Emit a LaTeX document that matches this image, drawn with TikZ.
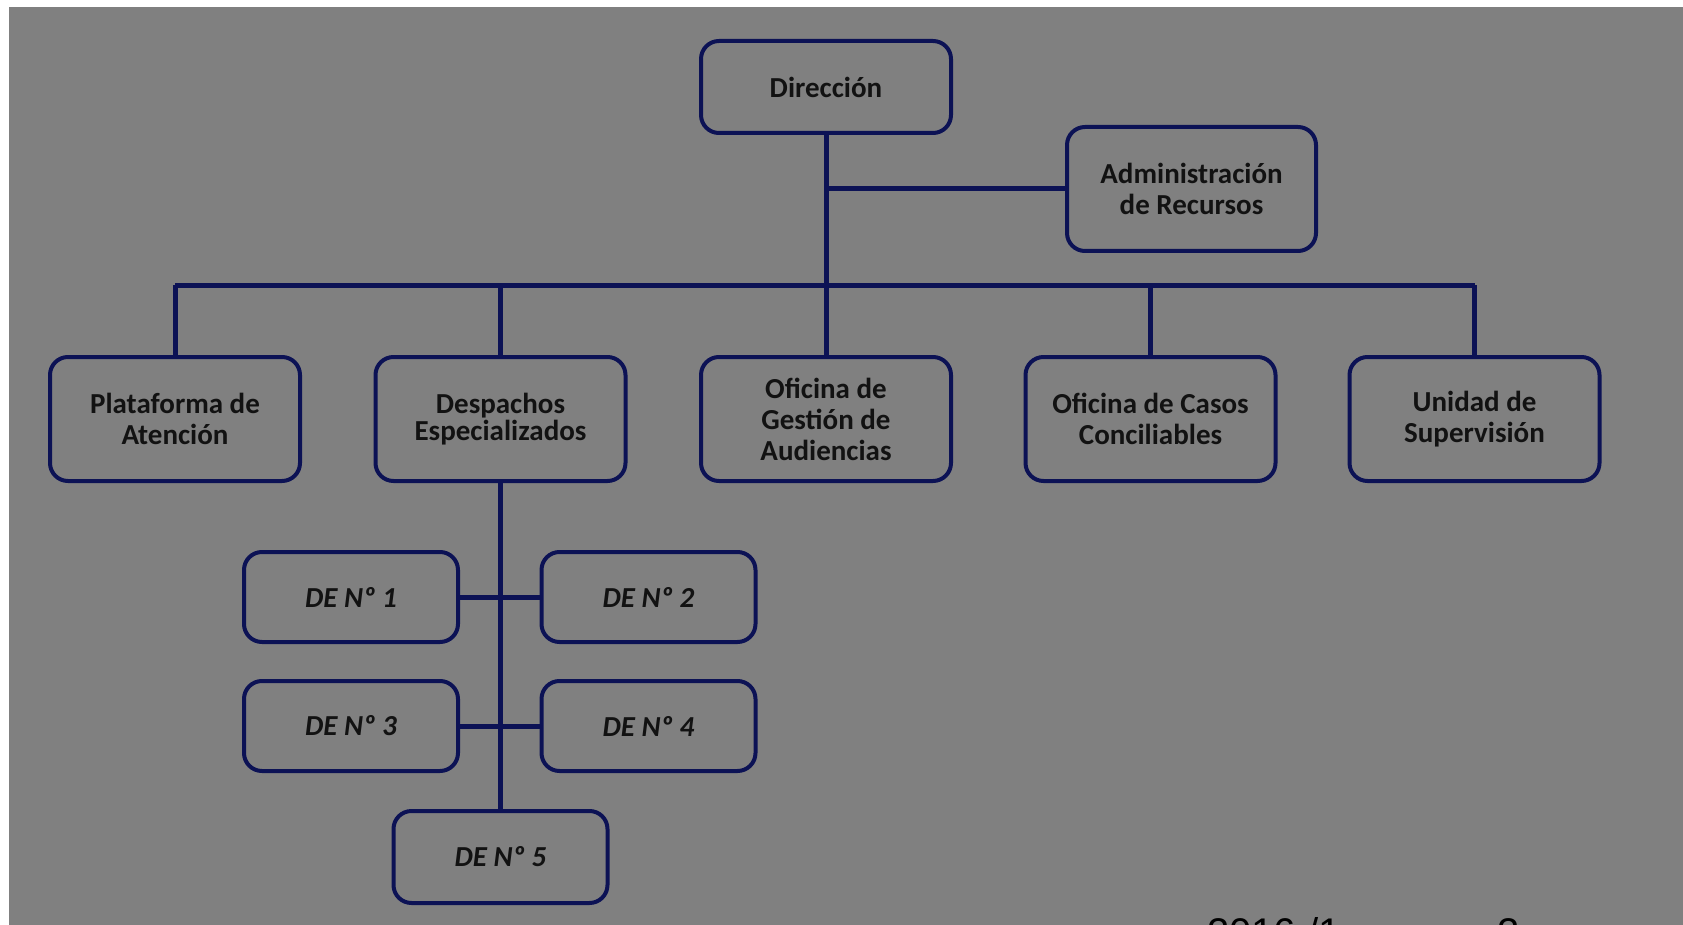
\documentclass[tikz,border=0pt]{standalone}
\usepackage{fontspec}
\setmainfont{Carlito}
\newfontfamily\footfont{Liberation Sans}
\definecolor{navy}{RGB}{12,18,85}
\definecolor{bggray}{RGB}{128,128,128}
\definecolor{ink}{RGB}{18,18,18}
\begin{document}
\begin{tikzpicture}[x=1pt,y=-1pt,
  orgbox/.style={draw=navy, line width=4pt, rounded corners=18pt, align=center,
    text=ink, font=\fontsize{29}{31}\selectfont\bfseries, inner sep=0pt},
  rowbox/.style={orgbox, minimum width=250pt, minimum height=124pt},
  debox/.style={orgbox, minimum width=214pt, minimum height=90pt, font=\fontsize{29}{31}\selectfont\bfseries\itshape},
  link/.style={draw=navy, line width=5pt}]
\useasboundingbox (0,0) rectangle (1683,925);
\clip (0,0) rectangle (1683,925);
\fill[white] (0,0) rectangle (1683,925);
\fill[bggray] (9,7) rectangle (1683,925);

\node[orgbox, minimum width=250pt, minimum height=92pt] (dir) at (826,87) {Dirección};
\node[orgbox, minimum width=249pt, minimum height=124pt] (adm) at (1191.5,189) {Administración\\de Recursos};

\node[rowbox] (plat) at (175,419) {Plataforma de\\Atención};
\node[rowbox, font=\fontsize{29}{27}\selectfont\bfseries] (desp) at (500.5,419) {Despachos\\Especializados};
\node[rowbox] (ofi) at (826,419) {Oficina de\\Gestión de\\Audiencias};
\node[rowbox] (casos) at (1150.5,419) {Oficina de Casos\\Conciliables};
\node[rowbox] (unid) at (1474.5,419) {Unidad de\\Supervisión};

\node[debox] (de1) at (351,597) {DE Nº 1};
\node[debox] (de2) at (648.5,597) {DE Nº 2};
\node[debox] (de3) at (351,726) {DE Nº 3};
\node[debox] (de4) at (648.5,726) {DE Nº 4};
\node[debox, minimum height=92pt] (de5) at (500.5,857) {DE Nº 5};

\coordinate (bus) at (826,285);

\draw[link] (dir.south) -- (ofi.north);
\draw[link] (dir.south |- adm.west) -- (adm.west);
\draw[link] (plat.north |- bus) -- (unid.north |- bus);
\draw[link] (plat.north) -- (plat.north |- bus);
\draw[link] (desp.north) -- (desp.north |- bus);
\draw[link] (casos.north) -- (casos.north |- bus);
\draw[link] (unid.north) -- (unid.north |- bus);
\draw[link] (desp.south) -- (de5.north);
\draw[link] (de1.east) -- (de2.west);
\draw[link] (de3.east) -- (de4.west);

\node[anchor=base west, inner sep=0pt, font=\footfont\fontsize{40}{40}\selectfont, text=black] (foot) at (1207,946) {2016 /1};
\node[anchor=base west, inner sep=0pt, font=\footfont\fontsize{40}{40}\selectfont, text=black] (pg) at (1497,946) {2};
\end{tikzpicture}
\end{document}
